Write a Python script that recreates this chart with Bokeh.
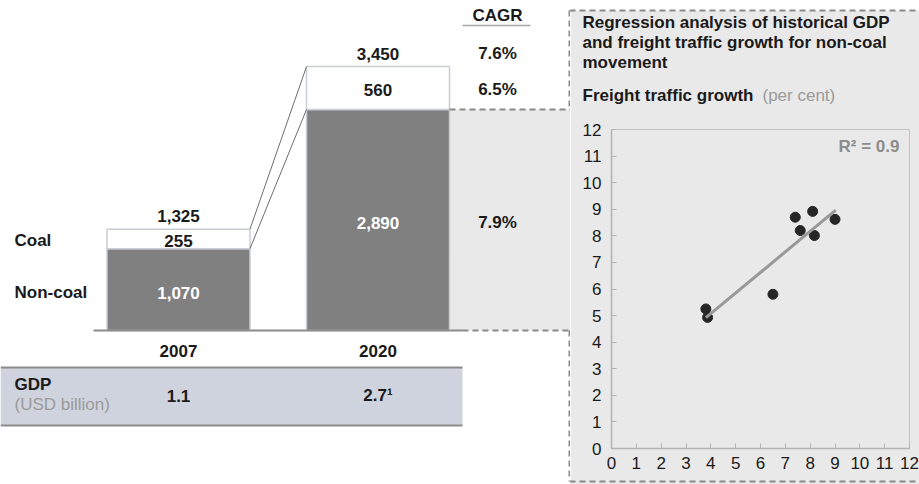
from bokeh.plotting import figure
from bokeh.models import Range1d, FixedTicker
from bokeh.layouts import row
from bokeh.embed import file_html
from bokeh.resources import INLINE
from bokeh.core.properties import value

# ---------------- data ----------------
years = ["2007", "2020"]
non_coal = [1070, 2890]
coal = [255, 560]
total_labels = ["1,325", "3,450"]
coal_labels = ["255", "560"]
non_coal_labels = ["1,070", "2,890"]
gdp_labels = ["1.1", "2.7\u00b9"]
cagr_labels = ["7.6%", "6.5%", "7.9%"]  # total, coal, non-coal

gdp_growth = [3.80, 3.87, 6.50, 7.40, 7.60, 8.10, 8.17, 9.00]
freight_growth = [5.25, 4.93, 5.80, 8.70, 8.20, 8.92, 8.01, 8.62]
fit_x = [3.80, 9.03]
fit_y = [4.92, 8.97]
r_squared_label = "R\u00b2 = 0.9"
x_ticks = [0, 1, 2, 3, 4, 5, 6, 7, 8, 9, 10, 11, 12]
y_ticks = [0, 1, 2, 3, 4, 5, 6, 7, 8, 9, 10, 11, 12]
title_lines = ["Regression analysis of historical GDP",
               "and freight traffic growth for non-coal",
               "movement"]

FONT = value("Liberation Sans")
FS = "17px"
DARK = "#1a1a1a"
GREY_BG = "#e9e9e9"
DASH_C = "#8a8a8a"
DASH = "6 4"
OV = "overlay"

W1, W2, H = 570, 349, 484
FL, FR, FT, FB = 611, 909, 129, 448   # scatter frame, page px

# ---------------- left figure (bars + table) ----------------
PPU = 0.0765      # px per unit of freight volume
BASEY = 330       # baseline, page px
XC0 = 178         # px of first bar centre
XSTEP = 199.5     # px between bars
BW = 143 / XSTEP  # bar width in index units


def fx(px):
    return (px - XC0) / XSTEP


def fy(py):
    return (BASEY - py) / PPU


p1 = figure(width=W1, height=H, x_range=Range1d(fx(0), fx(W1)),
            y_range=Range1d(fy(H), fy(0)), output_backend="svg",
            toolbar_location=None, min_border=0,
            x_axis_location=None, y_axis_location=None)
p1.grid.visible = False
p1.outline_line_color = None
p1.background_fill_color = "white"
p1.border_fill_color = "white"

xs = [0, 1]
tops = [n + c for n, c in zip(non_coal, coal)]

# grey zoom region behind the scatter
p1.quad(left=[1 + BW / 2], right=[fx(W1 + 5)], bottom=[0], top=[non_coal[1]],
        fill_color=GREY_BG, line_color=None)

# bars
p1.vbar(x=xs, width=BW, bottom=0, top=non_coal, fill_color="#808080",
        line_color="#c8cdd5", line_width=1.5)
p1.vbar(x=xs, width=BW, bottom=non_coal, top=tops, fill_color="white",
        line_color="#c8cdd5", line_width=1.5)

# connectors
p1.segment(x0=[BW / 2, BW / 2], y0=[tops[0], non_coal[0]],
           x1=[1 - BW / 2, 1 - BW / 2], y1=[tops[1], non_coal[1]],
           line_color="#6e6e6e", line_width=1)

# baseline
p1.segment(x0=[fx(93)], y0=[0], x1=[fx(462)], y1=[0],
           line_color="#8c8c8c", line_width=2)

# dashed borders of zoom region (left part)
p1.segment(x0=[1 + BW / 2, fx(462), fx(569), fx(569)],
           y0=[non_coal[1], 0, fy(10), 0],
           x1=[fx(W1), fx(W1), fx(569), fx(569)],
           y1=[non_coal[1], 0, non_coal[1], fy(481)],
           line_color=DASH_C, line_width=2, line_dash=DASH)


def txt(fig, x, y, t, color=DARK, align="center", style="bold", size=FS):
    fig.text(x=x, y=y, text=t, text_font=FONT, text_font_size=size,
             text_font_style=style, text_color=color, text_align=align,
             text_baseline="middle", level=OV)


coal_mid = [n + c / 2 - 2 / PPU for n, c in zip(non_coal, coal)]
non_coal_mid = [n / 2 - 3 / PPU for n in non_coal]
total_pos = [t + 13 / PPU for t in tops]

# bar labels
txt(p1, xs, total_pos, total_labels)
txt(p1, xs, coal_mid, coal_labels)
txt(p1, xs, non_coal_mid, non_coal_labels, color="white")
txt(p1, xs, [fy(350), fy(350)], years)

# row labels
txt(p1, [fx(14)], [coal_mid[0]], ["Coal"], align="left")
txt(p1, [fx(14)], [non_coal_mid[0]], ["Non-coal"], align="left")

# CAGR column
cx = fx(497)
txt(p1, [cx], [fy(15)], ["CAGR"])
p1.segment(x0=[fx(462)], y0=[fy(25)], x1=[fx(530)], y1=[fy(25)],
           line_color="#a6a6a6", line_width=1.5)
txt(p1, [cx, cx, cx], [total_pos[1], coal_mid[1], non_coal_mid[1]],
    cagr_labels)

# GDP table
p1.quad(left=[fx(0)], right=[fx(462)], bottom=[fy(425)], top=[fy(367)],
        fill_color="#cfd3dd", line_color=None)
p1.segment(x0=[fx(0), fx(0)], y0=[fy(367), fy(425)],
           x1=[fx(462), fx(462)], y1=[fy(367), fy(425)],
           line_color="#8c8c8c", line_width=2)
txt(p1, [fx(14)], [fy(384)], ["GDP"], align="left")
txt(p1, [fx(14)], [fy(404)], ["(USD billion)"], align="left",
    style="normal", color="#9a9a9a")
txt(p1, xs, [fy(395), fy(395)], gdp_labels)

# ---------------- right figure (regression scatter) ----------------


def gx(px):
    return (px - FL) * 12 / (FR - FL)


def gy(py):
    return (FB - py) * 12 / (FB - FT)


p2 = figure(width=W2, height=H, x_range=Range1d(0, 12), y_range=Range1d(0, 12),
            output_backend="svg", toolbar_location=None,
            min_border_left=FL - W1, min_border_right=W1 + W2 - FR,
            min_border_top=FT, min_border_bottom=H - FB)
p2.grid.visible = False
p2.background_fill_color = GREY_BG
p2.border_fill_color = GREY_BG
p2.outline_line_color = "#c4c4c4"
p2.outline_line_width = 1

# keep each figure's frame independent inside the row
for fig in (p1, p2):
    try:
        fig.frame_align = False
    except Exception:
        pass

for ax, ticks, standoff in ((p2.xaxis, x_ticks, 8), (p2.yaxis, y_ticks, 10)):
    ax.ticker = FixedTicker(ticks=ticks)
    ax.axis_line_color = "#b3b3b3"
    ax.axis_line_width = 1.5
    ax.major_tick_line_color = "#b3b3b3"
    ax.major_tick_in = 5
    ax.major_tick_out = 0
    ax.minor_tick_line_color = None
    ax.major_label_text_font = "Liberation Sans"
    ax.major_label_text_font_size = FS
    ax.major_label_text_color = DARK
    ax.major_label_standoff = standoff

p2.scatter(gdp_growth, freight_growth, size=10, fill_color="#262626",
           line_color="#262626")
p2.line(fit_x, fit_y, line_color="#999999", line_width=3)

txt(p2, [gx(899)], [gy(146)], [r_squared_label], color="#8c8c8c", align="right")

txt(p2, [gx(582)] * 3, [gy(22), gy(42), gy(62)], title_lines, align="left")
txt(p2, [gx(582)], [gy(95)], ["Freight traffic growth"], align="left")
txt(p2, [gx(762)], [gy(95)], ["(per cent)"], align="left", style="normal",
    color="#9a9a9a")

# white strip above the dashed box, and dashed top / bottom
p2.quad(left=[gx(W1 - 2)], right=[gx(W1 + W2 + 5)], top=[gy(-5)], bottom=[gy(10)],
        fill_color="white", line_color=None, level=OV)
p2.segment(x0=[gx(569), gx(569)], y0=[gy(10), gy(481)],
           x1=[gx(W1 + W2 + 5), gx(W1 + W2 + 5)], y1=[gy(10), gy(481)],
           line_color=DASH_C, line_width=2, line_dash=DASH, level=OV)

layout = row(p1, p2)
open("out.html", "w").write(file_html(layout, INLINE))
